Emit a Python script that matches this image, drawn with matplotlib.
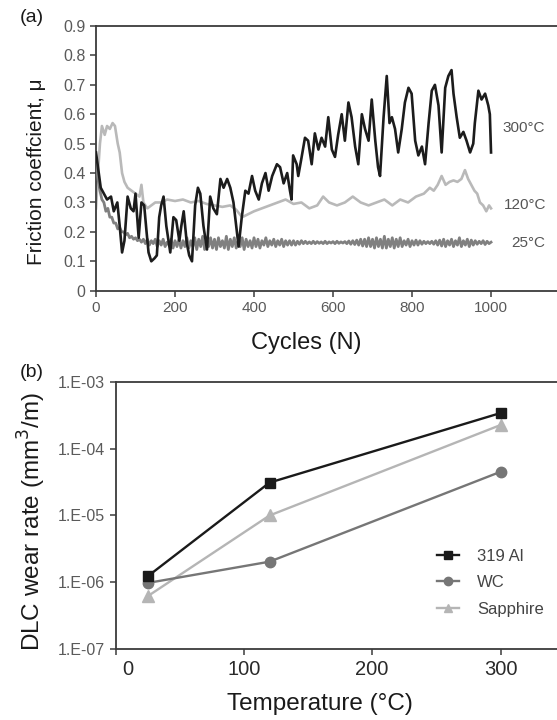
import matplotlib
matplotlib.use("Agg")
import matplotlib.pyplot as plt
import matplotlib.transforms as mtransforms

plt.rcParams['font.family'] = ['Liberation Sans', 'DejaVu Sans']

# --- panel (a) : friction coefficient vs cycles ---
cyc_300 = [0, 5, 12, 20, 28, 38, 45, 54, 60, 66, 72, 80, 88, 95, 100, 108, 115, 122,
           128, 133, 140, 148, 154, 160, 165, 171, 178, 188, 196, 203, 211, 216, 222,
           230, 236, 243, 251, 258, 264, 272, 281, 289, 297, 306, 315, 323, 332, 340,
           348, 361, 369, 378, 386, 395, 403, 412, 420, 429, 437, 446, 458, 466, 475,
           484, 491, 495, 499, 508, 512, 520, 529, 537, 546, 554, 563, 571, 580, 588,
           597, 605, 613, 622, 630, 639, 647, 656, 664, 673, 681, 690, 698, 707, 714,
           719, 728, 736, 743, 749, 757, 765, 774, 782, 791, 799, 808, 816, 825, 833,
           842, 850, 858, 867, 875, 884, 892, 900, 905, 913, 921, 930, 938, 947, 955,
           959, 968, 976, 985, 993, 997, 1000]
mu_300 = [0.47, 0.42, 0.35, 0.33, 0.31, 0.32, 0.27, 0.30, 0.22, 0.13, 0.17, 0.32, 0.28,
          0.27, 0.33, 0.18, 0.30, 0.29, 0.20, 0.13, 0.10, 0.11, 0.12, 0.25, 0.29, 0.32,
          0.22, 0.13, 0.25, 0.24, 0.17, 0.22, 0.27, 0.16, 0.12, 0.10, 0.29, 0.35, 0.33,
          0.22, 0.14, 0.32, 0.28, 0.26, 0.38, 0.35, 0.38, 0.35, 0.30, 0.15, 0.25, 0.34,
          0.33, 0.39, 0.34, 0.31, 0.365, 0.40, 0.34, 0.39, 0.43, 0.42, 0.365, 0.40, 0.34,
          0.31, 0.46, 0.43, 0.39, 0.45, 0.52, 0.51, 0.43, 0.535, 0.48, 0.52, 0.49, 0.59,
          0.48, 0.455, 0.53, 0.60, 0.51, 0.64, 0.59, 0.49, 0.43, 0.60, 0.55, 0.51, 0.65,
          0.51, 0.42, 0.39, 0.59, 0.73, 0.57, 0.59, 0.55, 0.47, 0.55, 0.64, 0.69, 0.67,
          0.51, 0.46, 0.49, 0.43, 0.57, 0.68, 0.70, 0.63, 0.47, 0.69, 0.73, 0.75, 0.67,
          0.59, 0.52, 0.54, 0.51, 0.47, 0.50, 0.57, 0.68, 0.65, 0.67, 0.63, 0.60, 0.47]

cyc_120 = [0, 5, 10, 15, 22, 28, 35, 42, 48, 55, 60, 66, 72, 80, 90, 100, 110, 115, 120,
           130, 140, 150, 165, 180, 200, 220, 240, 260, 280, 300, 320, 340, 355, 370,
           385, 400, 420, 440, 460, 480, 500, 520, 540, 560, 575, 590, 610, 630, 650,
           670, 690, 710, 730, 750, 770, 790, 810, 830, 845, 855, 865, 875, 885, 895,
           905, 915, 925, 934, 942, 950, 958, 965, 972, 980, 988, 995, 1000]
mu_120 = [0.28, 0.40, 0.50, 0.56, 0.53, 0.56, 0.55, 0.57, 0.56, 0.50, 0.47, 0.40, 0.37,
          0.35, 0.34, 0.33, 0.32, 0.36, 0.30, 0.28, 0.29, 0.30, 0.30, 0.31, 0.305, 0.31,
          0.30, 0.305, 0.295, 0.29, 0.285, 0.29, 0.275, 0.25, 0.26, 0.27, 0.28, 0.29,
          0.30, 0.31, 0.295, 0.30, 0.28, 0.29, 0.32, 0.30, 0.29, 0.30, 0.32, 0.30, 0.29,
          0.30, 0.31, 0.29, 0.31, 0.30, 0.32, 0.33, 0.35, 0.34, 0.36, 0.39, 0.36, 0.37,
          0.375, 0.37, 0.38, 0.41, 0.38, 0.36, 0.34, 0.33, 0.30, 0.29, 0.27, 0.29, 0.28]

# 25 C read every 5 cycles (noisy band)
cyc_25 = list(range(0, 1001, 5))
mu_25 = [0.44, 0.38, 0.34, 0.31, 0.30, 0.27, 0.28, 0.25, 0.25, 0.23,
         0.23, 0.21, 0.215, 0.20, 0.20, 0.19, 0.195, 0.18, 0.185, 0.175,
         0.18, 0.17, 0.175, 0.165, 0.175, 0.16, 0.175, 0.155, 0.17, 0.16,
         0.175, 0.15, 0.17, 0.155, 0.175, 0.15, 0.165, 0.155, 0.175, 0.145,
         0.17, 0.15, 0.175, 0.145, 0.17, 0.15, 0.18, 0.145, 0.17, 0.15,
         0.18, 0.14, 0.175, 0.15, 0.185, 0.14, 0.17, 0.15, 0.18, 0.145,
         0.175, 0.14, 0.18, 0.15, 0.17, 0.145, 0.185, 0.14, 0.175, 0.15,
         0.18, 0.145, 0.17, 0.15, 0.18, 0.14, 0.175, 0.15, 0.17, 0.145,
         0.18, 0.15, 0.175, 0.145, 0.17, 0.155, 0.18, 0.15, 0.17, 0.155,
         0.175, 0.15, 0.17, 0.155, 0.175, 0.15, 0.17, 0.155, 0.17, 0.155,
         0.17, 0.155, 0.168, 0.158, 0.17, 0.16, 0.168, 0.16, 0.166, 0.16,
         0.168, 0.16, 0.167, 0.161, 0.166, 0.16, 0.168, 0.16, 0.166, 0.162,
         0.167, 0.16, 0.168, 0.161, 0.166, 0.162, 0.167, 0.16, 0.169, 0.158,
         0.17, 0.157, 0.172, 0.155, 0.175, 0.152, 0.175, 0.15, 0.18, 0.15,
         0.175, 0.145, 0.18, 0.15, 0.175, 0.145, 0.185, 0.145, 0.175, 0.15,
         0.18, 0.145, 0.175, 0.15, 0.18, 0.15, 0.17, 0.155, 0.175, 0.15,
         0.17, 0.155, 0.172, 0.155, 0.17, 0.158, 0.168, 0.16, 0.167, 0.16,
         0.168, 0.158, 0.17, 0.155, 0.172, 0.152, 0.175, 0.15, 0.17, 0.155,
         0.175, 0.15, 0.17, 0.155, 0.18, 0.15, 0.17, 0.155, 0.175, 0.15,
         0.172, 0.155, 0.17, 0.158, 0.168, 0.16, 0.17, 0.157, 0.168, 0.16,
         0.165]

# --- panel (b) : wear rate vs temperature ---
temps = [25, 120, 300]
wear_al = [1.23e-6, 3.1e-5, 3.4e-4]
wear_wc = [9.8e-7, 2.04e-6, 4.5e-5]
wear_sap = [6.2e-7, 1.0e-5, 2.25e-4]

ytick_b = [1e-7, 1e-6, 1e-5, 1e-4, 1e-3]
ytick_b_lab = ["1.E-07", "1.E-06", "1.E-05", "1.E-04", "1.E-03"]

W, H = 557, 720
fig = plt.figure(figsize=(W / 100, H / 100), dpi=100)

spine_c = "#3c3c3c"
tick_c = "#5a5a5a"


def style_axes(ax):
    for s in ["left", "bottom", "top"]:
        ax.spines[s].set_color(spine_c)
        ax.spines[s].set_linewidth(1.3)
    ax.spines["right"].set_visible(False)
    ax.tick_params(direction="out", length=4, width=1.1, color=spine_c)


# panel (a)
ax1 = fig.add_axes([96 / W, 1 - 290.7 / H, 1 - 96 / W, (290.7 - 26) / H])
ax1.plot(cyc_120, mu_120, color="#b9b9b9", lw=1.9, zorder=2)
ax1.plot(cyc_25, mu_25, color="#808080", lw=2.0, zorder=3)
ax1.plot(cyc_300, mu_300, color="#1c1c1c", lw=1.9, zorder=4)
ax1.set_xlim(0, 1167)
ax1.set_ylim(0, 0.9)
ax1.set_xticks([0, 200, 400, 600, 800, 1000])
ax1.set_yticks([0, 0.1, 0.2, 0.3, 0.4, 0.5, 0.6, 0.7, 0.8, 0.9])
ax1.set_yticklabels(["0", "0.1", "0.2", "0.3", "0.4", "0.5", "0.6", "0.7", "0.8", "0.9"])
style_axes(ax1)
ax1.tick_params(labelsize=11, labelcolor=tick_c)
ax1.tick_params(axis="y", labelsize=11.5)
ax1.set_xlabel("Cycles (N)", fontsize=17, color="#1a1a1a")
ax1.xaxis.set_label_coords(0.455, -0.155)
ax1.set_ylabel("Friction coeffcient, μ", fontsize=15, color="#1a1a1a")
ax1.yaxis.set_label_coords(-0.108, 0.45)
ax1.text(1030, 0.553, "300°C", fontsize=11, color="#555555", va="center")
ax1.text(1033, 0.29, "120°C", fontsize=11, color="#555555", va="center")
ax1.text(1050, 0.162, "25°C", fontsize=11, color="#555555", va="center")
fig.text(20 / W, 1 - 17 / H, "(a)", fontsize=14, color="#1a1a1a", va="center")

# panel (b)
ax2 = fig.add_axes([115.5 / W, 1 - 649.3 / H, 1 - 115.5 / W, (649.3 - 381.7) / H])
ax2.set_yscale("log")
ax2.plot(temps, wear_al, color="#1a1a1a", lw=1.7, marker="s", ms=7.5, label="319 Al", zorder=4)
ax2.plot(temps, wear_wc, color="#767676", lw=1.7, marker="o", ms=7.5, label="WC", zorder=3)
ax2.plot(temps, wear_sap, color="#b5b5b5", lw=1.7, marker="^", ms=8, label="Sapphire", zorder=2)
ax2.set_xlim(0, 344)
ax2.set_ylim(1e-7, 1e-3)
ax2.set_xticks([0, 100, 200, 300])
ax2.set_yticks(ytick_b)
ax2.set_yticklabels(ytick_b_lab)
ax2.minorticks_off()
style_axes(ax2)
ax2.tick_params(axis="y", labelsize=11.5, labelcolor=tick_c)
ax2.tick_params(axis="x", labelsize=14.5, labelcolor="#2a2a2a")
# the "0" label sits a little to the right in the original
lab0 = ax2.get_xticklabels()[0]
lab0.set_transform(lab0.get_transform() + mtransforms.ScaledTranslation(0.12, 0, fig.dpi_scale_trans))
ax2.set_xlabel("Temperature (°C)", fontsize=17.5, color="#1a1a1a")
ax2.xaxis.set_label_coords(0.463, -0.165)
ax2.set_ylabel("DLC wear rate (mm$^3$/m)", fontsize=17.5, color="#1a1a1a")
ax2.yaxis.set_label_coords(-0.153, 0.476)
ax2.legend(loc="center left", bbox_to_anchor=(0.728, 0.249), frameon=False,
           fontsize=12, borderaxespad=0, borderpad=0, handlelength=1.3,
           handletextpad=1.1, labelspacing=0.7, markerscale=0.8, labelcolor="#444444")
fig.text(20 / W, 1 - 372 / H, "(b)", fontsize=14, color="#1a1a1a", va="center")

fig.savefig("out.png", dpi=100)
